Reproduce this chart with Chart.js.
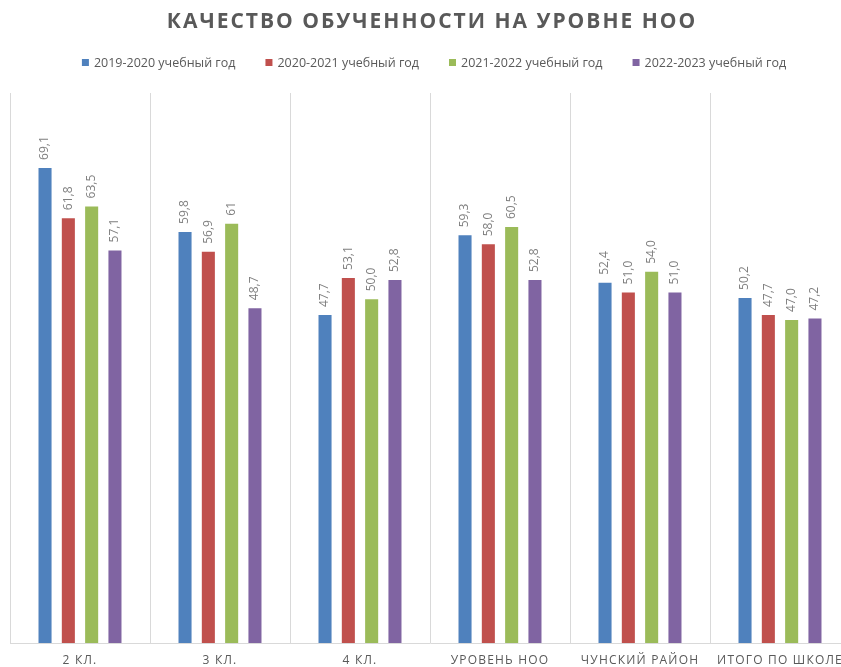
<!DOCTYPE html>
<html>
<head>
<meta charset="utf-8">
<script src="https://cdn.jsdelivr.net/npm/chart.js@4.4.0/dist/chart.umd.min.js"></script>
<style>
  html, body { margin: 0; padding: 0; background: #ffffff; overflow: hidden; }
  #wrap { width: 860px; height: 667px; }
</style>
</head>
<body>
<div id="wrap"><canvas id="c" width="860" height="667"></canvas></div>
<script>
// ---- data ----
const titleText = 'КАЧЕСТВО ОБУЧЕННОСТИ НА УРОВНЕ НОО';
const categories = ['2 КЛ.', '3 КЛ.', '4 КЛ.', 'УРОВЕНЬ НОО', 'ЧУНСКИЙ РАЙОН', 'ИТОГО ПО ШКОЛЕ'];
const seriesNames = ['2019-2020 учебный год', '2020-2021 учебный год', '2021-2022 учебный год', '2022-2023 учебный год'];
const values2019 = ['69,1', '59,8', '47,7', '59,3', '52,4', '50,2'];
const values2020 = ['61,8', '56,9', '53,1', '58,0', '51,0', '47,7'];
const values2021 = ['63,5', '61', '50,0', '60,5', '54,0', '47,0'];
const values2022 = ['57,1', '48,7', '52,8', '52,8', '51,0', '47,2'];
const colors = ['#4F81BD', '#C0504D', '#9BBB59', '#8064A2'];

const FONT = '"Open Sans", "Noto Sans", sans-serif';
const toNum = s => parseFloat(s.replace(',', '.'));
const allValues = [values2019, values2020, values2021, values2022];

const overlay = {
  id: 'overlay',
  afterDatasetsDraw(chart) {
    const ctx = chart.ctx;
    ctx.save();
    ctx.fillStyle = '#7F7F7F';
    ctx.font = '12px ' + FONT;
    ctx.textAlign = 'left';
    ctx.textBaseline = 'middle';
    chart.data.datasets.forEach((ds, di) => {
      const meta = chart.getDatasetMeta(di);
      meta.data.forEach((bar, i) => {
        ctx.save();
        ctx.translate(bar.x, bar.y - 8);
        ctx.rotate(-Math.PI / 2);
        ctx.fillText(ds.labelsText[i], 0, 0);
        ctx.restore();
      });
    });
    ctx.restore();
  },
  afterDraw(chart) {
    const ctx = chart.ctx;
    ctx.save();
    // title
    ctx.fillStyle = '#595959';
    ctx.font = 'bold 21px ' + FONT;
    ctx.letterSpacing = '2px';
    ctx.textAlign = 'center';
    ctx.textBaseline = 'middle';
    ctx.fillText(titleText, 432, 22);
    // category labels
    ctx.font = '12px ' + FONT;
    ctx.letterSpacing = '1.2px';
    const xs = chart.scales.x;
    categories.forEach((c, i) => {
      ctx.fillText(c, xs.getPixelForValue(i), 661);
    });
    // legend
    ctx.letterSpacing = '0px';
    ctx.font = '12.5px ' + FONT;
    ctx.textAlign = 'left';
    const box = 7, gapBox = 5, gapItem = 30;
    const widths = seriesNames.map(n => box + gapBox + ctx.measureText(n).width);
    const total = widths.reduce((a, b) => a + b, 0) + gapItem * (widths.length - 1);
    let x = 434 - total / 2;
    seriesNames.forEach((n, i) => {
      ctx.fillStyle = colors[i];
      ctx.fillRect(x, 59, box, box);
      ctx.fillStyle = '#595959';
      ctx.fillText(n, x + box + gapBox, 63);
      x += widths[i] + gapItem;
    });
    ctx.restore();
  }
};

new Chart(document.getElementById('c'), {
  type: 'bar',
  data: {
    labels: categories,
    datasets: allValues.map((vals, i) => ({
      label: seriesNames[i],
      data: vals.map(toNum),
      labelsText: vals,
      backgroundColor: colors[i],
      borderWidth: 0,
      categoryPercentage: 0.666,
      barPercentage: 0.56
    }))
  },
  options: {
    responsive: false,
    devicePixelRatio: 1,
    animation: false,
    layout: { padding: { top: 93, left: 10, right: 10, bottom: 24 } },
    plugins: { legend: { display: false }, title: { display: false }, tooltip: { enabled: false } },
    scales: {
      x: {
        grid: { display: true, color: '#D9D9D9', drawTicks: false, offset: true },
        border: { display: true, color: '#D9D9D9' },
        ticks: { display: false }
      },
      y: { display: false, min: 0, max: 80 }
    }
  },
  plugins: [overlay]
});
</script>
</body>
</html>
